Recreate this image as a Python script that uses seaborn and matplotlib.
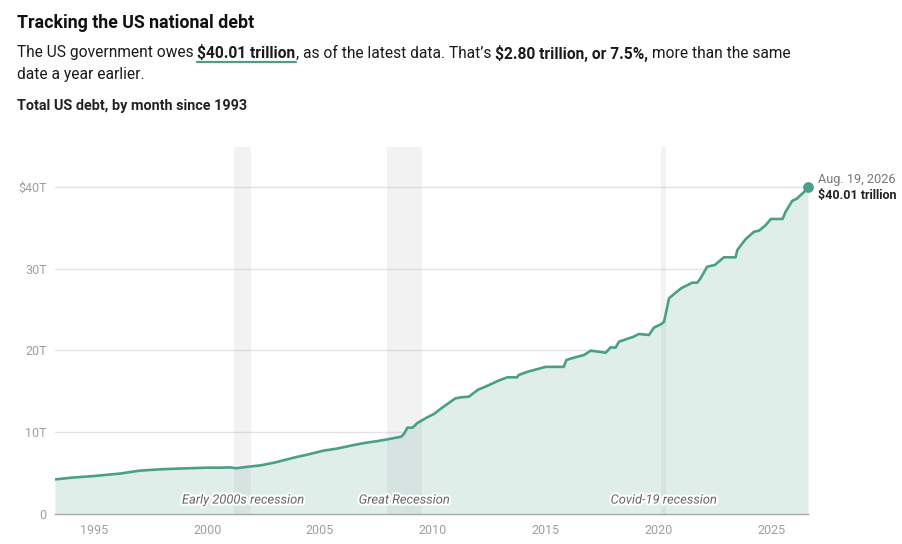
import matplotlib
matplotlib.use("Agg")
import matplotlib.pyplot as plt
import matplotlib.patheffects as pe
import seaborn as sns
import pandas as pd

# ---------------- data ----------------
dates = [1993.25, 1994.0, 1995.0, 1996.15, 1997.0, 1998.0, 1999.0, 2000.0, 2000.5,
         2001.0, 2001.3, 2001.8, 2002.36, 2003.0, 2003.55, 2004.0, 2004.5, 2005.15,
         2005.75, 2006.5, 2007.0, 2007.5, 2007.98, 2008.3, 2008.6, 2008.72, 2008.87,
         2009.1, 2009.3, 2009.75, 2010.05, 2010.35, 2011.0, 2011.3, 2011.6, 2011.75,
         2012.0, 2012.4, 2012.9, 2013.3, 2013.74, 2013.8, 2014.2, 2014.6, 2015.0,
         2015.8, 2015.92, 2016.25, 2016.7, 2017.0, 2017.66, 2017.88, 2018.1, 2018.25,
         2018.9, 2019.13, 2019.58, 2019.8, 2020.1, 2020.25, 2020.47, 2021.0, 2021.5,
         2021.72, 2021.86, 2022.16, 2022.5, 2022.9, 2023.42, 2023.5, 2023.87, 2024.24,
         2024.46, 2024.76, 2024.98, 2025.5, 2025.64, 2025.93, 2026.15, 2026.3, 2026.5,
         2026.63]
debt = [4.23, 4.45, 4.65, 4.95, 5.30, 5.48, 5.58, 5.67, 5.66,
        5.70, 5.60, 5.78, 5.95, 6.30, 6.69, 7.00, 7.30, 7.75,
        8.00, 8.44, 8.70, 8.90, 9.13, 9.30, 9.46, 9.80, 10.56,
        10.56, 11.10, 11.83, 12.23, 12.88, 14.15, 14.29, 14.35, 14.68,
        15.20, 15.66, 16.30, 16.72, 16.72, 17.00, 17.40, 17.70, 18.00,
        18.00, 18.84, 19.12, 19.45, 19.98, 19.73, 20.38, 20.35, 21.08,
        21.69, 22.02, 21.90, 22.80, 23.20, 23.50, 26.40, 27.60, 28.30,
        28.30, 28.80, 30.25, 30.46, 31.40, 31.40, 32.30, 33.64, 34.53,
        34.66, 35.35, 36.09, 36.09, 36.98, 38.30, 38.60, 39.00, 39.50,
        40.01]

recession_names = ["Early 2000s recession", "Great Recession", "Covid-19 recession"]
recession_start = [2001.2, 2007.95, 2020.1]
recession_end = [2001.95, 2009.5, 2020.35]

x_ticks = [1995, 2000, 2005, 2010, 2015, 2020, 2025]
y_ticks = [0, 10, 20, 30, 40]
y_tick_labels = ["0", "10T", "20T", "30T", "$40T"]

last_label_date = "Aug. 19, 2026"
last_label_value = "$40.01 trillion"

df = pd.DataFrame({"date": dates, "debt": debt})

# ---------------- style ----------------
sns.set_theme(style="white")
plt.rcParams["font.family"] = ["Roboto", "DejaVu Sans"]

LINE = "#4a9f89"
FILL = "#e0eeea"
W, H = 903, 544
fig = plt.figure(figsize=(W / 100, H / 100), dpi=100)
fig.patch.set_facecolor("white")

ax_left, ax_right, ax_top, ax_bottom = 55, 808, 147, 514
ax = fig.add_axes([ax_left / W, 1 - ax_bottom / H, (ax_right - ax_left) / W,
                   (ax_bottom - ax_top) / H])
ax.set_facecolor("white")

ax.fill_between(df["date"], 0, df["debt"], color=FILL, lw=0, zorder=1)
for s, e in zip(recession_start, recession_end):
    ax.axvspan(s, e, color="#9a9a9a", alpha=0.12, lw=0, zorder=2)
sns.lineplot(data=df, x="date", y="debt", ax=ax, color=LINE, lw=1.9, zorder=4)
ax.scatter([df["date"].iloc[-1]], [df["debt"].iloc[-1]], s=45, color=LINE, zorder=5,
           clip_on=False)

for yv in y_ticks[1:]:
    ax.axhline(yv, color="#e3e3e3", lw=1, zorder=0.5)

ax.set_xlim(dates[0], dates[-1])
ax.set_ylim(0, (ax_bottom - ax_top) / 8.175)
ax.set_xticks(x_ticks)
ax.set_xticklabels([str(t) for t in x_ticks])
ax.set_yticks(y_ticks)
ax.set_yticklabels(y_tick_labels)
ax.tick_params(axis="both", length=0, colors="#9e9e9e", labelsize=9)
ax.tick_params(axis="x", pad=7)
ax.tick_params(axis="y", pad=6)
ax.set_xlabel("")
ax.set_ylabel("")
for sp in ["top", "right", "left"]:
    ax.spines[sp].set_visible(False)
ax.spines["bottom"].set_color("#a8a8a8")
ax.spines["bottom"].set_linewidth(1)
ax.spines["bottom"].set_zorder(6)

for name, s, e in zip(recession_names, recession_start, recession_end):
    ax.text((s + e) / 2, 1.7, name, ha="center", va="center", fontsize=9.3,
            style="italic", color="#666666", zorder=7,
            path_effects=[pe.withStroke(linewidth=3, foreground="white")])

ax.annotate(last_label_date, xy=(dates[-1], debt[-1]), xytext=(7, 5.5),
            textcoords="offset points", fontsize=9.2, color="#777777",
            ha="left", va="center")
ax.annotate(last_label_value, xy=(dates[-1], debt[-1]), xytext=(7, -6),
            textcoords="offset points", fontsize=9.0, color="#222222",
            fontweight="bold", ha="left", va="center")

# ---------------- header ----------------
def fy(ypix):
    return 1 - ypix / H

fig.text(17 / W, fy(23), "Tracking the US national debt", fontsize=12.8,
         fontweight="bold", color="#111111", va="center", ha="left")

renderer = fig.canvas.get_renderer()

def width_px(t):
    return t.get_window_extent(renderer).width

def rich_line(x0, ypix, segments, size):
    x = x0
    out = []
    probe = fig.text(0, 0, "a a", fontsize=size)
    probe2 = fig.text(0, 0, "aa", fontsize=size)
    space = width_px(probe) - width_px(probe2)
    probe.remove(); probe2.remove()
    for txt, bold, gap_before in segments:
        if gap_before:
            x += space
        t = fig.text(x / W, fy(ypix), txt, fontsize=size,
                     fontweight="bold" if bold else "normal",
                     color="#1a1a1a", va="center", ha="left")
        w = width_px(t)
        out.append((t, x, w))
        x += w
    return out

SUB = 11.2
segs = rich_line(17, 53, [
    ("The US government owes", False, False),
    ("$40.01 trillion", True, True),
    (", as of the latest data. That\u2019s", False, False),
    ("$2.80 trillion, or 7.5%,", True, True),
    ("more than the same", False, True),
], SUB)
_, ux, uw = segs[1]
fig.add_artist(plt.Line2D([ux / W, (ux + uw) / W], [fy(62), fy(62)],
                          color=LINE, lw=1.6))
fig.text(17 / W, fy(74), "date a year earlier.", fontsize=SUB, color="#1a1a1a",
         va="center", ha="left")
fig.text(17 / W, fy(106), "Total US debt, by month since 1993", fontsize=10.4,
         fontweight="semibold", color="#222222", va="center", ha="left")

fig.savefig("out.png", dpi=100, facecolor="white")
